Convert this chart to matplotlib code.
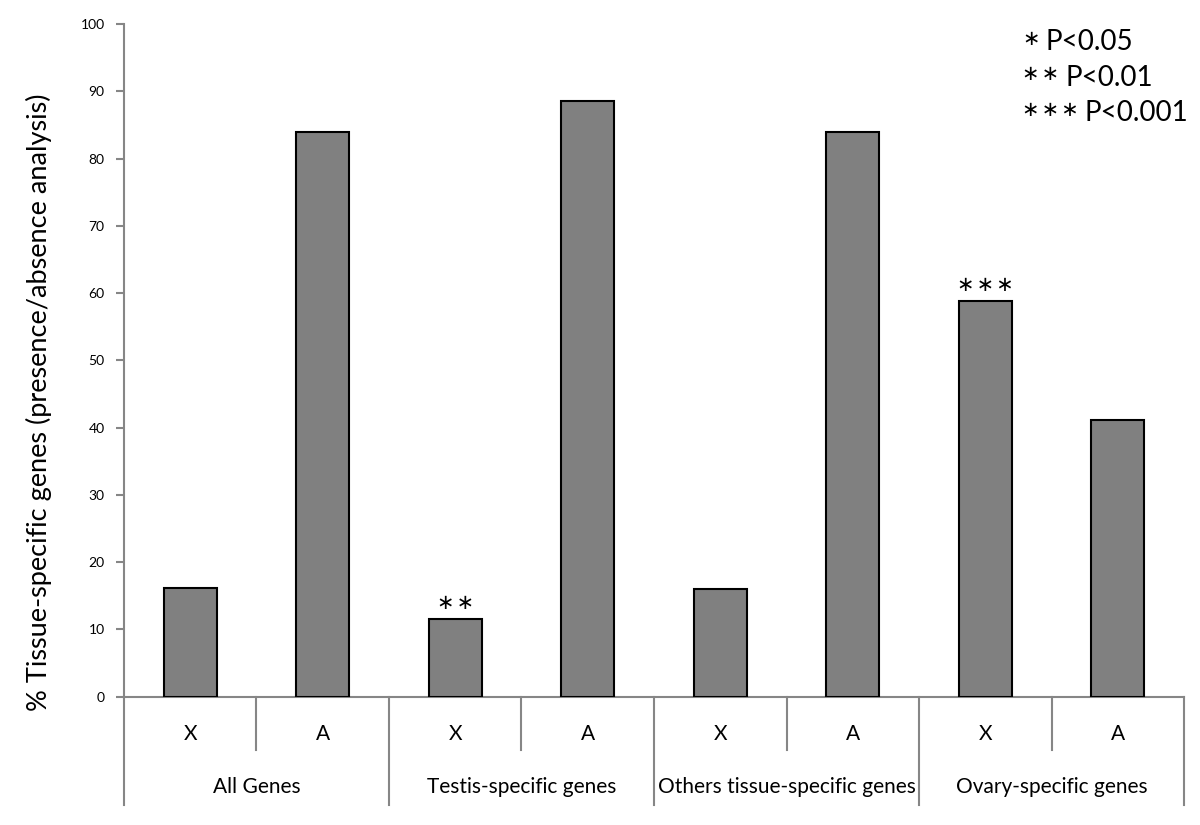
import matplotlib.pyplot as plt
import numpy as np

plt.rcParams['font.family'] = ['Lato', 'DejaVu Sans']

groups = ['All Genes', 'Testis-specific genes', 'Others tissue-specific genes', 'Ovary-specific genes']
subs = ['X', 'A']
values = [16.1, 83.9, 11.5, 88.5, 16.0, 84.0, 58.8, 41.2]
stars = [0, 0, 2, 0, 0, 0, 3, 0]
key_p = ['P<0.05', 'P<0.01', 'P<0.001']
yticks = list(range(0, 101, 10))

axis_col = '#868686'
ast = '\u2217'

fig = plt.figure(figsize=(12, 8.25), dpi=100)
ax = fig.add_axes([0.1033, 0.1555, 0.8834, 0.8154])

x = np.arange(len(values)) + 0.5
ax.bar(x, values, width=0.4, color='#808080', edgecolor='black', linewidth=1.5, zorder=3)

for xi, v, s in zip(x, values, stars):
    if s:
        ax.text(xi, v + 0.9, '\u200a'.join([ast] * s), ha='center', va='bottom',
                fontsize=15, fontfamily='DejaVu Sans')

ax.set_xlim(0, len(values))
ax.set_ylim(0, 100)
ax.set_yticks(yticks)
ax.set_yticklabels([str(t) for t in yticks], fontsize=10)
ax.set_xticks([])
ax.tick_params(axis='y', direction='out', length=6, color=axis_col, width=1.5, pad=8)

for sp in ['top', 'right']:
    ax.spines[sp].set_visible(False)
for sp in ['left', 'bottom']:
    ax.spines[sp].set_color(axis_col)
    ax.spines[sp].set_linewidth(1.5)

ax.set_ylabel('% Tissue-specific genes (presence/absence analysis)', fontsize=19.5)
ax.yaxis.set_label_coords(-0.068, 0.437)

# category axis below the bars
tr = ax.get_xaxis_transform()
for i in range(len(values) + 1):
    if i % 2 == 0:
        ax.plot([i, i], [0, -0.161], color=axis_col, lw=1.5, transform=tr, clip_on=False)
    else:
        ax.plot([i, i], [0, -0.079], color=axis_col, lw=1.5, transform=tr, clip_on=False)

for i, xi in enumerate(x):
    ax.text(xi, -0.055, subs[i % 2], ha='center', va='center', fontsize=15, transform=tr)

for j, g in enumerate(groups):
    ax.text(2 * j + 1, -0.134, g, ha='center', va='center', fontsize=15, transform=tr)

# significance key: asterisk group, then the P text right after it
renderer = fig.canvas.get_renderer()
for k, p in enumerate(key_p):
    yk = 1 - (42 + k * 35.5) / 825
    t = fig.text(1022 / 1200, yk + 0.004, '\u200a'.join([ast] * (k + 1)), fontsize=15,
                 ha='left', va='center', fontfamily='DejaVu Sans')
    bb = t.get_window_extent(renderer)
    fig.text((bb.x1 + 6) / 1200, yk, p, fontsize=20, ha='left', va='center')

fig.savefig('out.png', dpi=100)
